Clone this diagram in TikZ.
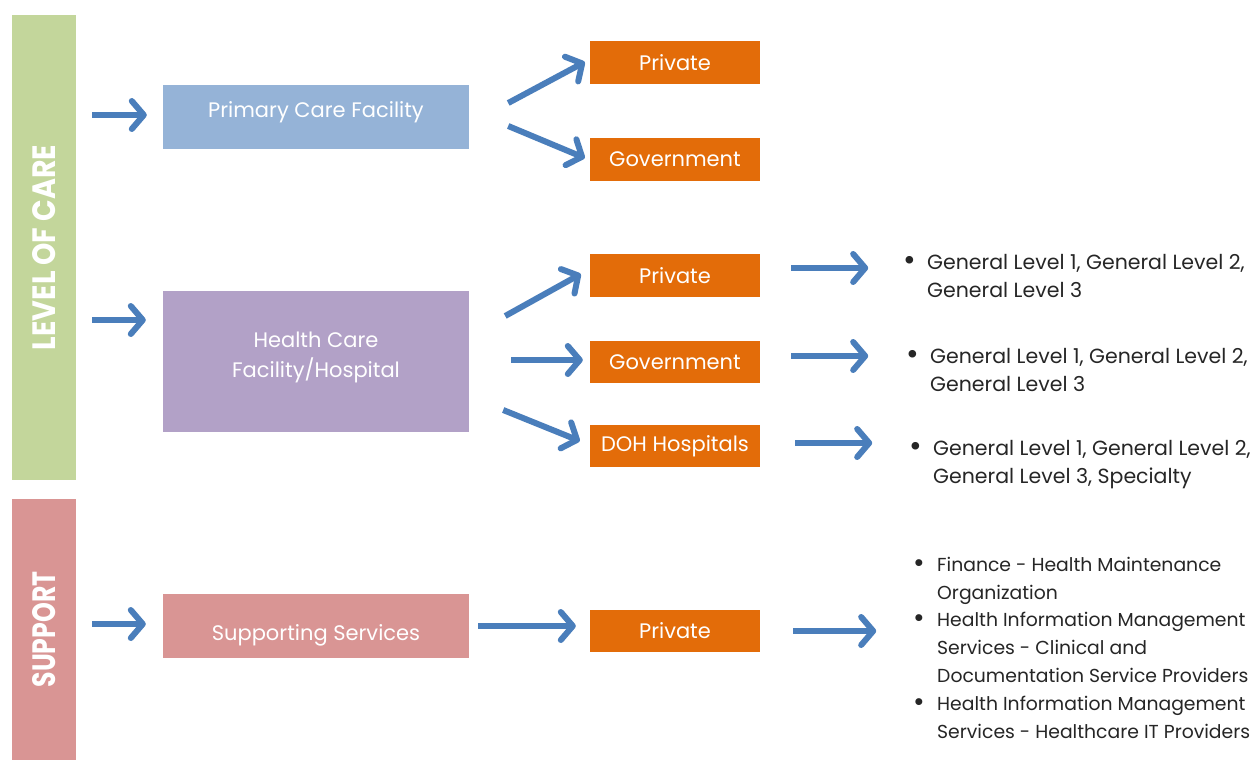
\documentclass[tikz,border=0pt]{standalone}
\usepackage{fontspec}
\setmainfont{Poppins}
\usetikzlibrary{arrows.meta}
\definecolor{gbar}{HTML}{C3D69B}
\definecolor{pbar}{HTML}{D99594}
\definecolor{blueb}{HTML}{95B3D7}
\definecolor{purb}{HTML}{B2A1C7}
\definecolor{orb}{HTML}{E36C09}
\definecolor{arr}{HTML}{4A7EBB}
\definecolor{txt}{HTML}{262626}
\newcommand\bul{\makebox[24pt][l]{\raisebox{-1pt}{\scalebox{1.5}{\textbullet}}}}
\newcommand\ind{\hspace*{24pt}}
\newcommand\lift[2]{\raisebox{#1}[\height][\depth]{#2}}
\begin{document}
\begin{tikzpicture}[x=1pt,y=-1pt,
  bar/.style={draw=none, inner sep=0pt, rotate=90, minimum height=64pt, text=white, font=\bfseries},
  box/.style={draw=none, inner sep=0pt, minimum width=306pt, text=white, align=center, font=\fontsize{21}{31}\selectfont},
  obox/.style={draw=none, fill=orb, inner sep=0pt, minimum width=170pt, minimum height=43pt, text=white, font=\fontsize{21}{25}\selectfont},
  blist/.style={inner sep=0pt, anchor=base west, align=left, text=txt, font=\fontsize{20.5}{28}\selectfont},
  arrow/.style={draw=arr, line width=6pt, -{Straight Barb[length=12pt, width=28pt, line width=6pt, round]}}
]
\useasboundingbox (0,0) rectangle (1257,760);
\fill[white] (0,0) rectangle (1257,760);

% side bars
\node[bar, fill=gbar, minimum width=465pt] (lc) at (44,247.5) {\resizebox{205pt}{23pt}{LEVEL OF CARE}};
\node[bar, fill=pbar, minimum width=261pt] (sp) at (44,629.5) {\resizebox{116pt}{23pt}{SUPPORT}};

% main boxes
\node[box, fill=blueb, minimum height=64pt] (pc) at (316,117) {\lift{5pt}{Primary Care Facility}};
\node[box, fill=purb, minimum height=141pt] (hc) at (316,361.5) {\lift{4pt}{\shortstack{Health Care\\[7pt]Facility/Hospital}}};
\node[box, fill=pbar, minimum height=64pt] (ss) at (316,626) {\lift{-9pt}{Supporting Services}};

% orange boxes
\node[obox] (pr1) at (675,62.5) {Private};
\node[obox] (gv1) at (675,159.5) {Government};
\node[obox] (pr2) at (675,275.5) {Private};
\node[obox, minimum height=42pt] (gv2) at (675,362) {Government};
\node[obox, minimum height=42pt] (doh) at (675,446) {DOH Hospitals};
\node[obox, minimum height=42pt] (pr3) at (675,631) {Private};

% bullet lists (anchored at the baseline of their last line)
\node[blist] (b1) at (903,297) {\bul General Level 1, General Level 2,\\\ind General Level 3};
\node[blist] (b2) at (906,391) {\bul General Level 1, General Level 2,\\\ind General Level 3};
\node[blist] (b3) at (909,483) {\bul General Level 1, General Level 2,\\\ind General Level 3, Specialty};
\node[blist, font=\fontsize{18.8}{27.8}\selectfont] (b4) at (913,738) {\bul Finance - Health Maintenance\\\ind Organization\\\bul Health Information Management\\\ind Services - Clinical and\\\ind Documentation Service Providers\\\bul Health Information Management\\\ind Services - Healthcare IT Providers};

% left arrows
\coordinate (a1) at (92,115);
\coordinate (a2) at (92,320);
\coordinate (a3) at (92,624);
\draw[arrow] (a1) -- ([xshift=-16pt]a1 -| pc.west);
\draw[arrow] (a2) -- ([xshift=-17pt]a2 -| hc.west);
\draw[arrow] (a3) -- ([xshift=-17pt]a3 -| ss.west);

% branching arrows
\draw[arrow] ([shift={(39,-14)}]pc.east) -- ([shift={(-5,-0.5)}]pr1.west);
\draw[arrow] ([shift={(39,9)}]pc.east) -- ([shift={(-5,-1.5)}]gv1.west);
\draw[arrow] ([shift={(36,-45.5)}]hc.east) -- ([shift={(-9,-1.5)}]pr2.west);
\draw[arrow] ([shift={(42,-1.5)}]hc.east) -- ([shift={(-7,-2)}]gv2.west);
\draw[arrow] ([shift={(34,48.5)}]hc.east) -- ([shift={(-10,-5)}]doh.west);
\draw[arrow] ([xshift=9pt]ss.east) -- ([xshift=-14pt]ss.east -| pr3.west);

% right arrows
\draw[arrow] ([shift={(31,-7.5)}]pr2.east) -- ([shift={(108,-7.5)}]pr2.east);
\draw[arrow] ([shift={(31,-6)}]gv2.east) -- ([shift={(108,-6)}]gv2.east);
\draw[arrow] ([shift={(35,-3)}]doh.east) -- ([shift={(112,-3)}]doh.east);
\draw[arrow] ([shift={(33,0)}]pr3.east) -- ([shift={(116,0)}]pr3.east);
\end{tikzpicture}
\end{document}
